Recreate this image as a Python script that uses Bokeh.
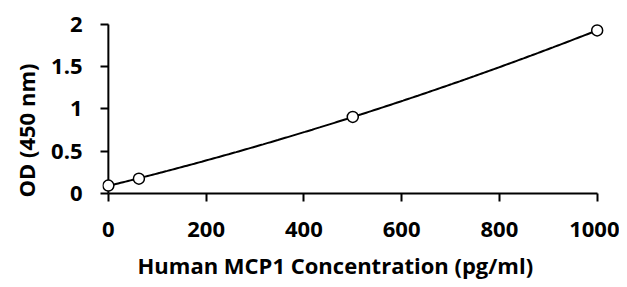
import numpy as np
from bokeh.plotting import figure
from bokeh.models import FixedTicker, Range1d, Title
from bokeh.embed import file_html
from bokeh.resources import INLINE

# data
conc = [0, 62.5, 500, 1000]
od = [0.094, 0.176, 0.906, 1.93]
x_ticks = [0, 200, 400, 600, 800, 1000]
y_ticks = [0, 0.5, 1, 1.5, 2]
y_tick_labels = ["0", "0.5", "1", "1.5", "2"]
x_title = "Human MCP1 Concentration (pg/ml)"
y_title = "OD (450 nm)"

# quadratic trendline fitted to the data points
coef = np.polyfit(conc, od, 2)
xf = np.linspace(min(conc), max(conc), 200)
yf = np.polyval(coef, xf)

p = figure(width=619, height=287, output_backend="svg", toolbar_location=None,
           x_range=Range1d(-12, 1015), y_range=Range1d(0, 2.047),
           min_border_left=102, min_border_right=15, min_border_top=20, min_border_bottom=93)
p.outline_line_color = None
p.grid.visible = False
p.background_fill_color = "white"

# y axis line at x = 0
p.segment(x0=[x_ticks[0]], y0=[y_ticks[0]], x1=[x_ticks[0]], y1=[y_ticks[-1]],
          line_color="black", line_width=2)

p.line(xf, yf, line_color="black", line_width=2)
p.scatter(conc, od, marker="circle", size=11, fill_color="white", line_color="black", line_width=1.5)

font = "Open Sans"
for ax in (p.xaxis[0], p.yaxis[0]):
    ax.axis_line_width = 2
    ax.axis_line_color = "black"
    ax.major_tick_line_width = 2
    ax.major_tick_line_color = "black"
    ax.minor_tick_line_color = None
    ax.major_label_text_font = font
    ax.major_label_text_font_style = "bold"
    ax.major_label_text_font_size = "22px"
    ax.major_label_text_color = "black"

p.xaxis.major_tick_in = 0
p.xaxis.major_tick_out = 8
p.yaxis.axis_line_color = None
p.yaxis.major_tick_in = 6
p.yaxis.major_tick_out = 2

p.xaxis.bounds = (0, 1000)
p.yaxis.bounds = (0, 2)
p.xaxis.ticker = FixedTicker(ticks=x_ticks)
p.yaxis.ticker = FixedTicker(ticks=y_ticks)
p.yaxis.major_label_overrides = {t: l for t, l in zip(y_ticks, y_tick_labels)}
p.xaxis.major_label_standoff = 20
p.yaxis.major_label_standoff = 18

xt = Title(text=x_title, align="left", offset=35, standoff=16,
           text_font=font, text_font_style="bold", text_font_size="22px", text_color="black")
yt = Title(text=y_title, align="left", offset=-4, standoff=16,
           text_font=font, text_font_style="bold", text_font_size="22px", text_color="black")
p.add_layout(xt, "below")
p.add_layout(yt, "left")

open("out.html", "w").write(file_html(p, INLINE))
